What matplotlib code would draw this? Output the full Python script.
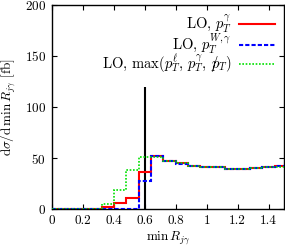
import numpy as np
import matplotlib
matplotlib.use("Agg")
import matplotlib.pyplot as plt
from matplotlib.lines import Line2D

plt.rcParams['font.family'] = ['cmr10']
plt.rcParams['mathtext.fontset'] = 'cm'
plt.rcParams['axes.formatter.use_mathtext'] = True

edges = [0.0, 0.08, 0.16, 0.24, 0.32, 0.40, 0.48, 0.56, 0.64, 0.72, 0.80,
         0.88, 0.96, 1.04, 1.12, 1.20, 1.28, 1.36, 1.44, 1.52]
lo_ptgamma = [0, 0, 0, 0.3, 2, 6, 11, 36, 51.5, 47.5, 45, 42.5, 41, 41.5,
              39.5, 39.2, 40.2, 40.8, 41.8]
lo_ptWgamma = [0, 0, 0, 0, 0, 0, 0, 27, 51.5, 47.2, 44.5, 42.3, 40.8, 41.2,
               39.3, 39.0, 40.0, 41.0, 42.0]
lo_max = [0, 0, 0, 0, 4.6, 18.6, 38, 50.7, 51.2, 47.3, 44.7, 42.4, 40.8, 41.3,
          39.4, 39.1, 40.2, 40.8, 41.6]
cut_x = 0.6
cut_height = 120

labels = [r"LO, $p_T^{\gamma}$", r"LO, $p_T^{W,\gamma}$",
          r"LO, $\max(p_T^{\ell},\,p_T^{\gamma},\,/\!\!\!p_T)$"]

RED = '#ff0000'
BLUE = '#0000ff'
GREEN = '#00e000'

fig = plt.figure(figsize=(2.85, 2.49), dpi=100)
ax = fig.add_axes([0.1825, 0.1606, 0.8140, 0.8194])

ax.vlines(cut_x, 0, cut_height, color='black', lw=1.5, zorder=1)
ax.stairs(lo_ptgamma, edges, color=RED, lw=1.5, zorder=2)
ax.stairs(lo_ptWgamma, edges, color=BLUE, lw=1.5,
          linestyle=(0, (2.0, 1.0)), zorder=3)
ax.stairs(lo_max, edges, color=GREEN, lw=1.2,
          linestyle=(0, (1.0, 1.0)), zorder=4)

ax.set_xlim(0, 1.5)
ax.set_ylim(0, 200)
ax.set_xticks([0, 0.2, 0.4, 0.6, 0.8, 1.0, 1.2, 1.4])
ax.set_xticklabels(["0", "0.2", "0.4", "0.6", "0.8", "1", "1.2", "1.4"])
ax.set_yticks([0, 50, 100, 150, 200])
ax.tick_params(direction='in', top=True, right=True, length=3.5,
               labelsize=9.5, pad=4.5, width=0.8)
for s in ax.spines.values():
    s.set_linewidth(1.0)

ax.set_xlabel(r"$\min\,R_{j\gamma}$", fontsize=9.5, labelpad=2)
ax.set_ylabel(r"$\mathrm{d}\sigma/\mathrm{d}\,\min\,R_{j\gamma}$ [fb]",
              fontsize=9.5, labelpad=5)

handles = [Line2D([], [], color=RED, lw=1.5),
           Line2D([], [], color=BLUE, lw=1.5, linestyle=(0, (2.0, 1.0))),
           Line2D([], [], color=GREEN, lw=1.2, linestyle=(0, (1.0, 1.0)))]
ax.legend(handles, labels, loc='upper right', frameon=False, markerfirst=False,
          fontsize=10.5, handlelength=2.5, handletextpad=0.5, labelspacing=-0.22,
          borderaxespad=0.4, borderpad=0.2)

fig.savefig("out.png", dpi=100)
